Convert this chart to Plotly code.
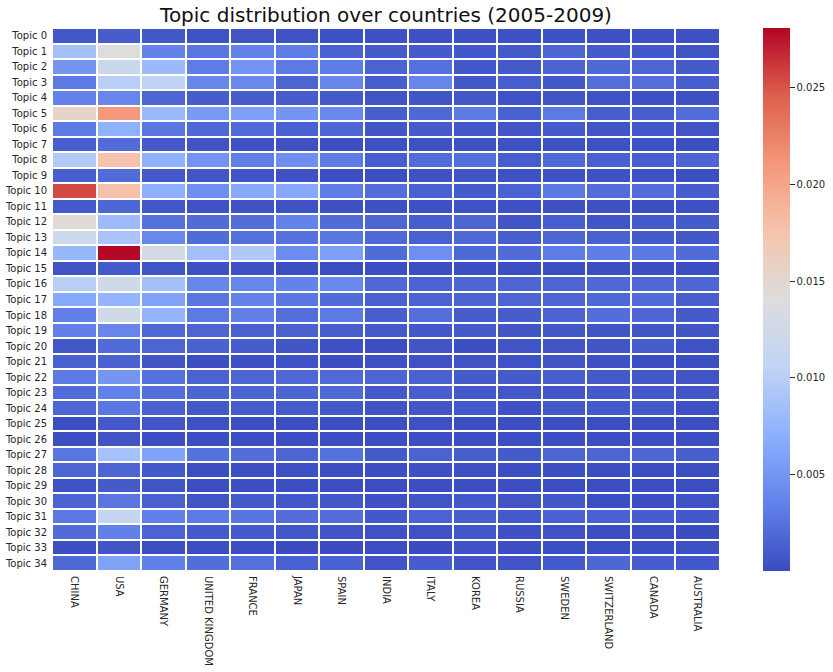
import plotly.graph_objects as go

countries = ["CHINA", "USA", "GERMANY", "UNITED KINGDOM", "FRANCE", "JAPAN", "SPAIN", "INDIA",
             "ITALY", "KOREA", "RUSSIA", "SWEDEN", "SWITZERLAND", "CANADA", "AUSTRALIA"]
topics = ["Topic %d" % i for i in range(35)]

# values, one row per topic
values = [
    [.0007, .0011, .0007, .0004, .0005, .0004, .0003, .0003, .0003, .0003, .0003, .0003, .0003, .0003, .0003],
    [.0085, .0140, .0036, .0028, .0036, .0032, .0014, .0010, .0010, .0008, .0009, .0017, .0010, .0008, .0005],
    [.0050, .0118, .0080, .0031, .0050, .0030, .0031, .0015, .0024, .0008, .0009, .0015, .0018, .0016, .0010],
    [.0030, .0100, .0105, .0039, .0040, .0016, .0039, .0012, .0038, .0007, .0012, .0007, .0023, .0023, .0012],
    [.0036, .0038, .0017, .0011, .0011, .0011, .0009, .0005, .0006, .0007, .0004, .0005, .0004, .0003, .0003],
    [.0155, .0210, .0080, .0053, .0058, .0050, .0040, .0012, .0018, .0030, .0013, .0030, .0012, .0012, .0021],
    [.0030, .0072, .0028, .0018, .0020, .0013, .0017, .0006, .0010, .0007, .0006, .0010, .0006, .0008, .0005],
    [.0011, .0020, .0008, .0005, .0004, .0003, .0002, .0003, .0003, .0003, .0003, .0003, .0003, .0003, .0002],
    [.0096, .0175, .0072, .0048, .0033, .0045, .0031, .0012, .0020, .0022, .0011, .0018, .0013, .0012, .0016],
    [.0012, .0020, .0008, .0006, .0005, .0004, .0002, .0002, .0004, .0005, .0003, .0004, .0004, .0003, .0002],
    [.0255, .0178, .0070, .0045, .0066, .0065, .0031, .0022, .0013, .0010, .0015, .0029, .0021, .0021, .0011],
    [.0010, .0017, .0007, .0004, .0004, .0004, .0003, .0003, .0003, .0004, .0003, .0003, .0003, .0002, .0003],
    [.0145, .0081, .0024, .0020, .0022, .0036, .0020, .0017, .0012, .0017, .0006, .0012, .0006, .0009, .0010],
    [.0120, .0090, .0040, .0020, .0024, .0024, .0028, .0018, .0013, .0018, .0012, .0017, .0013, .0010, .0007],
    [.0078, .0280, .0130, .0085, .0095, .0043, .0057, .0020, .0045, .0018, .0020, .0031, .0032, .0029, .0020],
    [.0005, .0009, .0005, .0003, .0003, .0002, .0001, .0002, .0002, .0002, .0002, .0002, .0002, .0002, .0002],
    [.0100, .0125, .0085, .0038, .0038, .0036, .0040, .0018, .0015, .0017, .0016, .0016, .0018, .0018, .0017],
    [.0065, .0075, .0060, .0027, .0036, .0028, .0020, .0013, .0015, .0015, .0016, .0016, .0018, .0020, .0012],
    [.0033, .0125, .0075, .0030, .0033, .0023, .0030, .0012, .0023, .0011, .0011, .0015, .0022, .0017, .0010],
    [.0034, .0038, .0018, .0016, .0013, .0014, .0012, .0009, .0008, .0010, .0006, .0007, .0005, .0005, .0006],
    [.0007, .0020, .0016, .0014, .0011, .0006, .0003, .0002, .0006, .0002, .0005, .0005, .0006, .0011, .0004],
    [.0013, .0014, .0006, .0002, .0003, .0004, .0001, .0003, .0004, .0005, .0004, .0005, .0003, .0001, .0001],
    [.0030, .0050, .0024, .0015, .0016, .0018, .0019, .0016, .0013, .0010, .0010, .0012, .0009, .0007, .0005],
    [.0020, .0034, .0022, .0016, .0016, .0016, .0018, .0008, .0012, .0009, .0007, .0006, .0009, .0009, .0006],
    [.0017, .0028, .0013, .0007, .0010, .0010, .0007, .0005, .0006, .0008, .0004, .0007, .0008, .0007, .0004],
    [.0002, .0008, .0006, .0003, .0002, .0002, .0002, .0002, .0003, .0002, .0002, .0002, .0001, .0002, .0001],
    [.0002, .0005, .0002, .0002, .0001, .0001, .0001, .0001, .0002, .0002, .0001, .0002, .0002, .0002, .0001],
    [.0027, .0087, .0060, .0024, .0022, .0016, .0024, .0009, .0015, .0012, .0010, .0016, .0016, .0017, .0012],
    [.0016, .0016, .0008, .0001, .0002, .0003, .0002, .0002, .0003, .0003, .0002, .0002, .0001, .0001, .0001],
    [.0004, .0010, .0006, .0002, .0002, .0002, .0002, .0001, .0002, .0002, .0002, .0001, .0001, .0001, .0001],
    [.0015, .0027, .0013, .0005, .0009, .0008, .0007, .0003, .0005, .0008, .0005, .0007, .0002, .0002, .0004],
    [.0029, .0110, .0034, .0030, .0026, .0022, .0022, .0008, .0015, .0012, .0009, .0014, .0014, .0011, .0008],
    [.0020, .0034, .0015, .0009, .0009, .0007, .0005, .0004, .0004, .0007, .0003, .0004, .0002, .0002, .0000],
    [.0002, .0006, .0002, .0001, .0002, .0000, .0000, .0001, .0000, .0004, .0002, .0002, .0001, .0002, .0003],
    [.0018, .0060, .0034, .0022, .0024, .0013, .0014, .0005, .0011, .0006, .0006, .0009, .0017, .0011, .0008],
]

colorbar_ticks = [0.005, 0.010, 0.015, 0.020, 0.025]

# matplotlib's coolwarm
coolwarm = [
    [0.0, "rgb(58,76,192)"],
    [0.125, "rgb(98,130,234)"],
    [0.25, "rgb(141,176,254)"],
    [0.375, "rgb(192,212,245)"],
    [0.5, "rgb(221,221,221)"],
    [0.625, "rgb(245,196,173)"],
    [0.75, "rgb(244,152,122)"],
    [0.875, "rgb(220,96,77)"],
    [1.0, "rgb(180,4,38)"],
]

font = "DejaVu Sans"
text_color = "#262626"

fig = go.Figure(go.Heatmap(
    z=values,
    x=countries,
    y=topics,
    colorscale=coolwarm,
    zmin=0,
    zmax=0.0281,
    xgap=2,
    ygap=2,
    colorbar=dict(
        x=1.0644,
        xanchor="left",
        y=0.5,
        yanchor="middle",
        len=1,
        thickness=27,
        xpad=0,
        ypad=0,
        outlinewidth=0,
        tickmode="array",
        tickvals=colorbar_ticks,
        ticktext=["%.3f" % t for t in colorbar_ticks],
        ticks="outside",
        ticklen=5,
        tickcolor=text_color,
        tickfont=dict(family=font, size=10, color=text_color),
    ),
))

fig.update_layout(
    width=833,
    height=672,
    margin=dict(l=52, r=113, t=28, b=101, autoexpand=False),
    paper_bgcolor="white",
    plot_bgcolor="white",
    title=dict(
        text="Topic distribution over countries (2005-2009)",
        x=386 / 833,
        xanchor="center",
        y=1 - 15 / 672,
        yanchor="middle",
        font=dict(family=font, size=20, color="#111111"),
    ),
)
fig.update_xaxes(tickangle=90, ticks="outside", ticklen=2, tickcolor="white", automargin=False,
                 tickfont=dict(family=font, size=10, color=text_color), showgrid=False, zeroline=False)
fig.update_yaxes(autorange="reversed", ticks="outside", ticklen=2, tickcolor="white", automargin=False,
                 tickfont=dict(family=font, size=10, color=text_color), showgrid=False, zeroline=False)

fig.write_html("out.html", config=dict(displayModeBar=False),
               post_script="document.body.style.margin = '0';")
